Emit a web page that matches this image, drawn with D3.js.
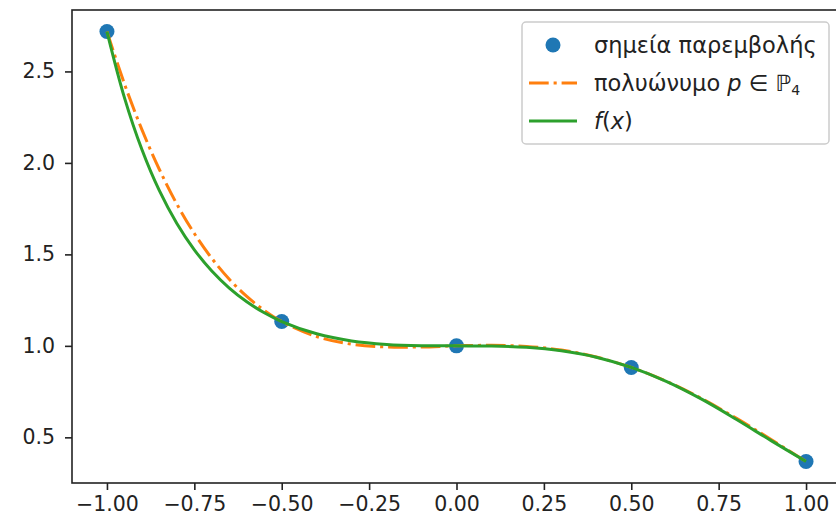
<!DOCTYPE html>
<html>
<head>
<meta charset="utf-8">
<script src="https://cdn.jsdelivr.net/npm/d3@7"></script>
<style>
  body { margin: 0; background: #fff; }
  text { font-family: "DejaVu Sans", sans-serif; }
</style>
</head>
<body>
<div class="chart"></div>
<script>
// interpolation nodes
var nodeX = [-1, -0.5, 0, 0.5, 1];
var nodeY = [2.718, 1.133, 1.0, 0.882, 0.368];

var curveX = [-1, -0.95, -0.9, -0.85, -0.8, -0.75, -0.7, -0.65, -0.6, -0.55, -0.5,
              -0.4, -0.3, -0.2, -0.1, 0, 0.1, 0.2, 0.3, 0.4, 0.5, 0.6, 0.7, 0.8, 0.9, 1];
var polyY = [2.718, 2.432, 2.182, 1.964, 1.775, 1.614, 1.478, 1.364, 1.270, 1.194, 1.133,
             1.051, 1.009, 0.994, 0.994, 1.0, 1.003, 0.997, 0.977, 0.939, 0.882, 0.807, 0.713, 0.605, 0.488, 0.368];
var funcY = [2.718, 2.357, 2.073, 1.848, 1.669, 1.525, 1.409, 1.316, 1.241, 1.181, 1.133,
             1.066, 1.027, 1.008, 1.001, 1.0, 0.999, 0.992, 0.973, 0.938, 0.882, 0.806, 0.710, 0.599, 0.482, 0.368];

var xTicks = [-1, -0.75, -0.5, -0.25, 0, 0.25, 0.5, 0.75, 1];
var yTicks = [0.5, 1.0, 1.5, 2.0, 2.5];

var width = 836, height = 525;
var margin = {top: 10, right: -5, bottom: 42, left: 72};

var svg = d3.select(".chart")
    .append("svg")
    .attr("width", width)
    .attr("height", height);

var x = d3.scaleLinear().domain([-1.1, 1.1]).range([margin.left, width - margin.right]);
var y = d3.scaleLinear().domain([0.2504, 2.8358]).range([height - margin.bottom, margin.top]);

// axes
var xAxis = svg.append("g")
    .attr("transform", "translate(0," + (height - margin.bottom) + ")")
    .call(d3.axisBottom(x).tickValues(xTicks).tickFormat(d3.format(".2f")).tickSize(7).tickPadding(6).tickSizeOuter(0));

var yAxis = svg.append("g")
    .attr("transform", "translate(" + margin.left + ",0)")
    .call(d3.axisLeft(y).tickValues(yTicks).tickFormat(d3.format(".1f")).tickSize(7).tickPadding(10).tickSizeOuter(0));

[xAxis, yAxis].forEach(function(a){
  a.select(".domain").remove();
  a.selectAll("line").attr("stroke", "#222").attr("stroke-width", 1.6);
  a.selectAll("text").attr("fill", "#222").style("font-size", "20.5px")
    .style("font-family", "DejaVu Sans");
});

var line = d3.line()
    .x(function(d){ return x(d[0]); })
    .y(function(d){ return y(d[1]); })
    .curve(d3.curveCatmullRom);

// points
svg.append("g").selectAll("circle")
    .data(nodeX.map(function(v, i){ return [v, nodeY[i]]; }))
    .enter().append("circle")
    .attr("cx", function(d){ return x(d[0]); })
    .attr("cy", function(d){ return y(d[1]); })
    .attr("r", 7.5)
    .attr("fill", "#1f77b4");

svg.append("path")
    .datum(curveX.map(function(v, i){ return [v, polyY[i]]; }))
    .attr("fill", "none")
    .attr("stroke", "#ff7f0e")
    .attr("stroke-width", 3)
    .attr("stroke-dasharray", "19.7,4.9,3.1,4.9")
    .attr("d", line);

svg.append("path")
    .datum(curveX.map(function(v, i){ return [v, funcY[i]]; }))
    .attr("fill", "none")
    .attr("stroke", "#2ca02c")
    .attr("stroke-width", 3)
    .attr("d", line);

// frame
svg.append("rect")
    .attr("x", margin.left)
    .attr("y", margin.top)
    .attr("width", width - margin.right - margin.left)
    .attr("height", height - margin.bottom - margin.top)
    .attr("fill", "none")
    .attr("stroke", "#222")
    .attr("stroke-width", 1.6);

// legend
var lg = svg.append("g").attr("class", "legend");
lg.append("rect")
    .attr("x", 522).attr("y", 22)
    .attr("width", 307).attr("height", 122)
    .attr("rx", 4).attr("ry", 4)
    .attr("fill", "#fff").attr("fill-opacity", 0.8)
    .attr("stroke", "#ccc").attr("stroke-width", 1.5);

var rows = [45, 83, 121];
var fs = "22.5px";
lg.append("circle").attr("cx", 553).attr("cy", rows[0]).attr("r", 7.5).attr("fill", "#1f77b4");
lg.append("line").attr("x1", 529).attr("x2", 577).attr("y1", rows[1]).attr("y2", rows[1])
    .attr("stroke", "#ff7f0e").attr("stroke-width", 3).attr("stroke-dasharray", "19.7,4.9,3.1,4.9");
lg.append("line").attr("x1", 529).attr("x2", 577).attr("y1", rows[2]).attr("y2", rows[2])
    .attr("stroke", "#2ca02c").attr("stroke-width", 3);

var t1 = lg.append("text").attr("x", 594).attr("y", rows[0]).attr("dy", "0.35em")
    .style("font-size", fs).attr("fill", "#222").text("σημεία παρεμβολής");

var t2 = lg.append("text").attr("x", 594).attr("y", rows[1]).attr("dy", "0.35em")
    .style("font-size", fs).attr("fill", "#222");
t2.append("tspan").text("πολυώνυμο ");
t2.append("tspan").style("font-style", "italic").text("p");
t2.append("tspan").text(" ∈ ");
t2.append("tspan").style("font-style", "italic").text("ℙ");
t2.append("tspan").attr("dy", 4).style("font-size", "14px").text("4");

var t3 = lg.append("text").attr("x", 594).attr("y", rows[2]).attr("dy", "0.35em")
    .style("font-size", fs).attr("fill", "#222");
t3.append("tspan").style("font-style", "italic").text("f");
t3.append("tspan").text("(");
t3.append("tspan").style("font-style", "italic").text("x");
t3.append("tspan").text(")");
</script>
</body>
</html>
